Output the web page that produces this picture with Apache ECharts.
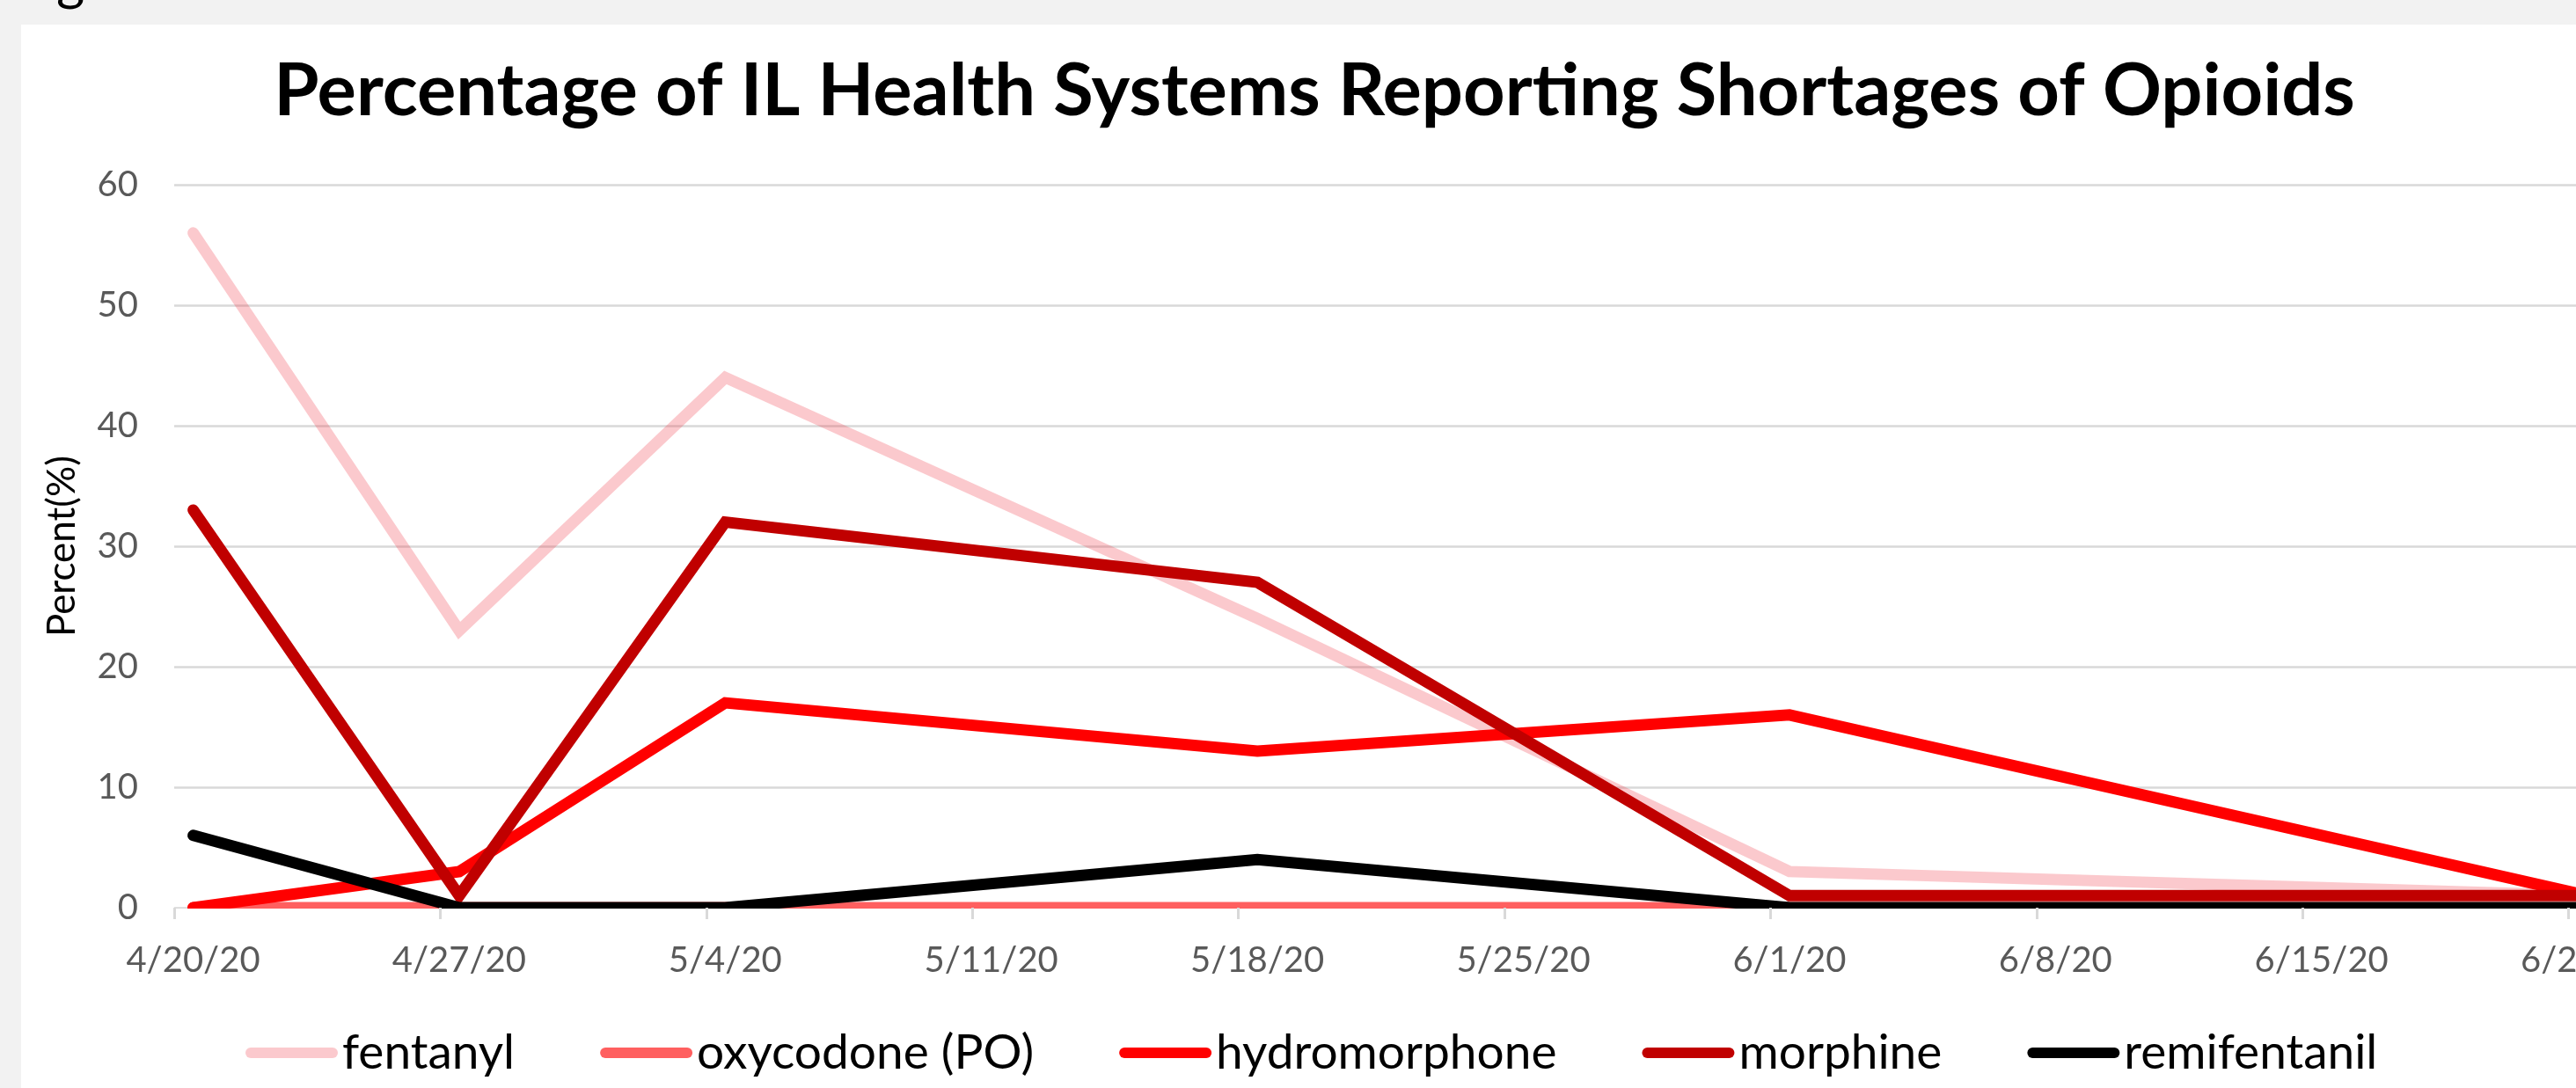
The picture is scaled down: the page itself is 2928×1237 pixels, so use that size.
<!DOCTYPE html>
<html>
<head>
<meta charset="utf-8">
<title>Percentage of IL Health Systems Reporting Shortages of Opioids</title>
<script src="https://cdn.jsdelivr.net/npm/echarts@6/dist/echarts.min.js"></script>
<style>
  html, body { margin: 0; padding: 0; background: #f2f2f2; overflow: hidden; }
  #chart { width: 3260px; height: 1237px; }
</style>
</head>
<body>
<div id="chart"></div>
<script>
// survey dates (one report per date)
const reportDates = ['4/20/20', '4/27/20', '5/4/20', '5/18/20', '6/1/20', '6/22/20'];
// weekly tick labels on the date axis
const tickLabels = ['4/20/20', '4/27/20', '5/4/20', '5/11/20', '5/18/20', '5/25/20',
  '6/1/20', '6/8/20', '6/15/20', '6/22/20', '6/29/20'];

const fentanyl = [56, 23, 44, 24, 3, 1];
const oxycodone = [0, 0, 0, 0, 0, 0];
const hydromorphone = [0, 3, 17, 13, 16, 1];
const morphine = [33, 1, 32, 27, 1, 1];
const remifentanil = [6, 0, 0, 4, 0, 0];

const FONT = 'Lato, "Open Sans", sans-serif';

// days since the first tick; excel plots a date in the middle of its day
function dayOffset(s) {
  const [m, d, y] = s.split('/').map(Number);
  return (Date.UTC(2000 + y, m - 1, d) - Date.UTC(2020, 3, 20)) / 86400000;
}
const xs = reportDates.map(d => dayOffset(d) + 0.5);

const seriesDefs = [
  { name: 'fentanyl', values: fentanyl, color: 'rgba(240,60,75,0.28)' },
  { name: 'oxycodone (PO)', values: oxycodone, color: '#ff5f5f' },
  { name: 'hydromorphone', values: hydromorphone, color: '#ff0000' },
  { name: 'morphine', values: morphine, color: '#c00000' },
  { name: 'remifentanil', values: remifentanil, color: '#000000' },
];

const chart = echarts.init(document.getElementById('chart'));
chart.setOption({
  backgroundColor: '#f2f2f2',
  animation: false,
  graphic: [
    // white chart panel
    { type: 'rect', z: -10, shape: { x: 24, y: 28, width: 3300, height: 1300 }, style: { fill: '#ffffff' } },
    // plot area clips the lower half of lines lying on 0
    { type: 'rect', z: 5, shape: { x: 190, y: 1033, width: 3100, height: 12 }, style: { fill: '#ffffff' } },
    {
      type: 'text', z: 10, x: 1494, y: 104,
      style: {
        text: 'Percentage of IL Health Systems Reporting Shortages of Opioids',
        font: 'bold 83px ' + FONT, fill: '#000', align: 'center', verticalAlign: 'middle'
      }
    },
    {
      type: 'text', z: 10, x: 64, y: -52,
      style: { text: 'g', font: '62px ' + FONT, fill: '#000', verticalAlign: 'top' }
    }
  ],
  grid: { left: 198, top: 210, width: 3024, height: 822, outerBoundsMode: 'none' },
  legend: {
    left: 279, top: 1167, padding: 0,
    icon: 'path://M6,0H99A6,6,0,0,1,99,12H6A6,6,0,0,1,6,0Z',
    itemWidth: 105, itemHeight: 12, itemGap: 97,
    textStyle: { fontFamily: FONT, fontSize: 55, color: '#000', lineHeight: 60 },
    data: seriesDefs.map(s => s.name)
  },
  xAxis: {
    type: 'value', min: 0, max: 70, interval: 7, z: 10,
    axisLine: { show: false },
    axisTick: { show: true, length: 13, lineStyle: { color: '#d9d9d9', width: 3 } },
    splitLine: { show: false },
    axisLabel: {
      margin: 40,
      formatter: v => '{t|' + tickLabels[Math.round(v / 7)] + '}',
      rich: { t: { fontFamily: FONT, fontSize: 40, color: '#595959', padding: [0, 0, 0, 43] } }
    }
  },
  yAxis: {
    type: 'value', min: 0, max: 60, interval: 10,
    name: 'Percent(%)', nameLocation: 'middle', nameRotate: 90, nameGap: 105,
    nameTextStyle: { fontFamily: FONT, fontSize: 44, color: '#000' },
    axisLine: { show: false },
    axisTick: { show: false },
    splitLine: { lineStyle: { color: '#d9d9d9', width: 2.5 } },
    axisLabel: { margin: 41, fontFamily: FONT, fontSize: 40, color: '#595959' }
  },
  series: seriesDefs.map(s => ({
    name: s.name,
    type: 'line',
    symbol: 'none',
    showSymbol: false,
    z: 2,
    data: xs.map((x, i) => [x, s.values[i]]),
    itemStyle: { color: s.color },
    lineStyle: { color: s.color, width: 13, cap: 'round', join: 'miter' }
  }))
});
</script>
</body>
</html>
